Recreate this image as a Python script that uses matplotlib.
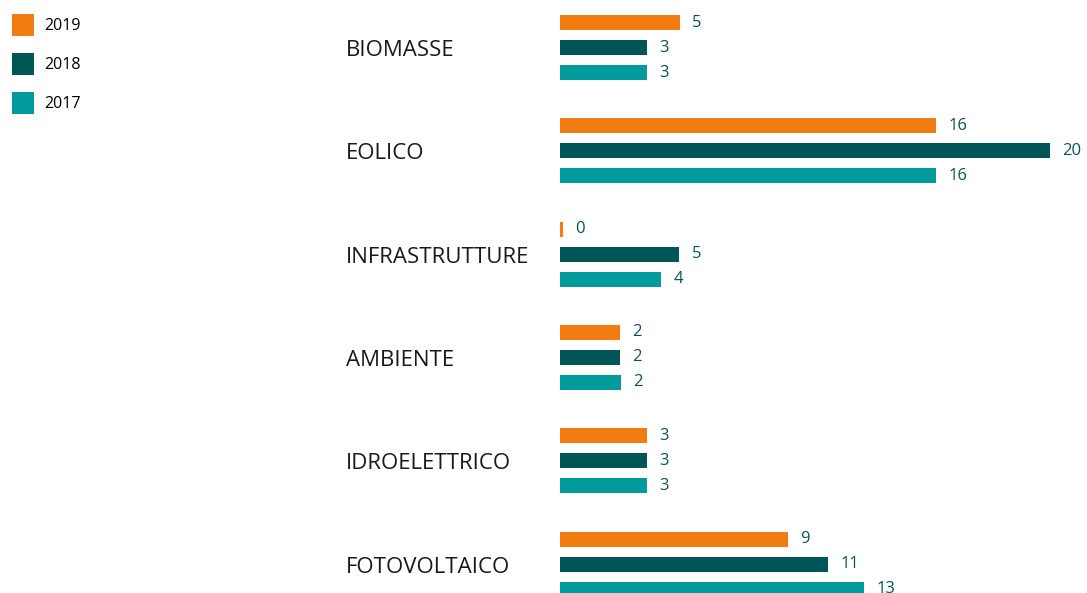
import matplotlib.pyplot as plt
from matplotlib.patches import Patch
from matplotlib.transforms import blended_transform_factory
import numpy as np

categories = ['BIOMASSE', 'EOLICO', 'INFRASTRUTTURE', 'AMBIENTE', 'IDROELETTRICO', 'FOTOVOLTAICO']
years = ['2019', '2018', '2017']

# bar lengths, labels as printed
values_2019 = [4.9, 15.4, 0.12, 2.46, 3.57, 9.34]
values_2018 = [3.57, 20.08, 4.88, 2.46, 3.57, 11.0]
values_2017 = [3.57, 15.4, 4.14, 2.5, 3.57, 12.46]
labels_2019 = ['5', '16', '0', '2', '3', '9']
labels_2018 = ['3', '20', '5', '2', '3', '11']
labels_2017 = ['3', '16', '4', '2', '3', '13']

colors = ['#F07C12', '#005557', '#009A9B']
label_color = '#0D5257'

plt.rcParams['font.family'] = ['Open Sans', 'DejaVu Sans']

fig = plt.figure(figsize=(10.87, 5.93), dpi=100)
ax = fig.add_axes([560 / 1087, 0, 527 / 1087, 1])

y = np.arange(len(categories))
offset = 0.242
height = 0.145
series = [(values_2019, labels_2019), (values_2018, labels_2018), (values_2017, labels_2017)]
for k, (vals, labs) in enumerate(series):
    ypos = y + (k - 1) * offset
    ax.barh(ypos, vals, height=height, color=colors[k])
    for yy, v, lab in zip(ypos, vals, labs):
        ax.annotate(lab, xy=(v, yy), xytext=(9, 0), textcoords='offset points',
                    ha='left', va='center', fontsize=12, color=label_color)

trans = blended_transform_factory(fig.transFigure, ax.transData)
for yy, cat in zip(y, categories):
    ax.text(346 / 1087, yy + 0.03, cat, transform=trans,
            ha='left', va='center', fontsize=16, color='#1a1a1a')

ax.set_xlim(0, 527 / 24.4)
ax.set_ylim(5.28, -0.46)
ax.axis('off')

handles = [Patch(facecolor=c, edgecolor='none') for c in colors]
fig.legend(handles, years, loc='upper left', bbox_to_anchor=(12 / 1087, 1 - 14 / 593),
           frameon=False, fontsize=11.5, handlelength=1.4, handleheight=1.7,
           labelspacing=1.1, handletextpad=0.65, borderpad=0, borderaxespad=0)

fig.savefig('out.png', dpi=100)
